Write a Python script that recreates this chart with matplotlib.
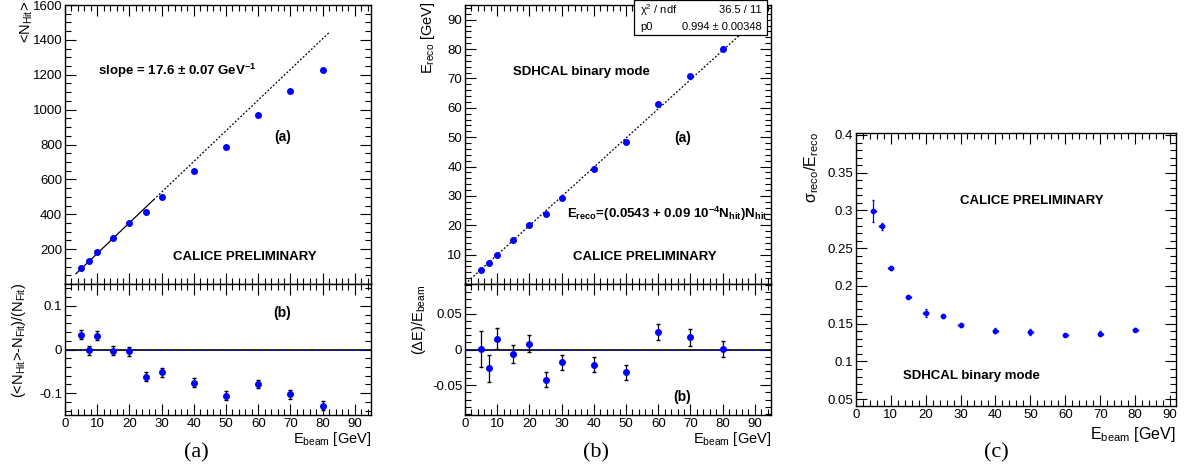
"""CALICE SDHCAL binary-mode linearity and resolution plots."""

import matplotlib

matplotlib.use("Agg")
import matplotlib.pyplot as plt
from matplotlib.patches import Rectangle
from matplotlib.ticker import FuncFormatter, MultipleLocator

plt.rcParams["font.family"] = ["Liberation Sans", "DejaVu Sans"]
plt.rcParams["mathtext.fontset"] = "custom"
plt.rcParams["mathtext.rm"] = "Liberation Sans"
plt.rcParams["mathtext.it"] = "Liberation Sans:italic"
plt.rcParams["mathtext.bf"] = "Liberation Sans:bold"
plt.rcParams["mathtext.default"] = "rm"
plt.rcParams["axes.unicode_minus"] = False

E_BEAM = [5, 7.5, 10, 15, 20, 25, 30, 40, 50, 60, 70, 80]
NHIT_MEAN = [90, 132, 182, 264, 350, 413, 500, 649, 787, 972, 1106, 1226]
NHIT_RESID = [0.034, -0.002, 0.032, -0.003, -0.004, -0.062, -0.052, -0.076, -0.106, -0.079, -0.103, -0.129]
NHIT_RESID_ERR = [0.010, 0.010, 0.010, 0.010, 0.010, 0.010, 0.010, 0.010, 0.010, 0.010, 0.011, 0.010]
E_RECO = [4.9, 7.15, 10.0, 14.9, 20.0, 24.0, 29.3, 39.0, 48.2, 61.3, 70.9, 79.9]
E_RESID = [0.001, -0.026, 0.015, -0.0065, 0.0083, -0.042, -0.018, -0.021, -0.032, 0.024, 0.017, 0.001]
E_RESID_ERR = [0.025, 0.019, 0.0146, 0.0128, 0.0113, 0.011, 0.011, 0.011, 0.0107, 0.011, 0.012, 0.0115]
RESOLUTION = [0.299, 0.279, 0.224, 0.186, 0.164, 0.160, 0.148, 0.141, 0.139, 0.135, 0.137, 0.142]
RESOLUTION_ERR = [0.0148, 0.005, 0.003, 0.0025, 0.0055, 0.003, 0.003, 0.003, 0.004, 0.0015, 0.003, 0.002]
E_BEAM_ERR = 0.7

SLOPE = 17.6
INTERCEPT = -1.0
FIT_SOLID = (3.4, 27.5)
FIT_DOTTED = (27.5, 82.0)
CALIB = 0.994

_W, _H = 1194, 472
_BLUE = "#0000ff"
_TICK_FS = 9.5
_TXT_FS = 9.5
_CAP_FS = 16


def _px_rect(x0, y0, x1, y1):
    return [x0 / _W, 1 - y1 / _H, (x1 - x0) / _W, (y1 - y0) / _H]


def _fmt(v, _pos):
    v = round(v, 6)
    return "0" if v == 0 else f"{v:g}"


def _fmt_no_zero(v, _pos):
    v = round(v, 6)
    return "" if v == 0 else f"{v:g}"


def _root_style(ax, xmin, ymin, show_xlabels=True, hide_zero=False):
    ax.xaxis.set_minor_locator(MultipleLocator(xmin))
    ax.yaxis.set_minor_locator(MultipleLocator(ymin))
    ax.tick_params(which="both", direction="in", top=True, right=True, labelsize=_TICK_FS, pad=2)
    ax.tick_params(which="major", length=8, width=0.8)
    ax.tick_params(which="minor", length=4, width=0.8)
    ax.tick_params(axis="x", labelbottom=show_xlabels)
    ax.yaxis.set_major_formatter(FuncFormatter(_fmt_no_zero if hide_zero else _fmt))
    for spine in ax.spines.values():
        spine.set_linewidth(1.0)


def _zero_line(ax):
    ax.axhline(0, color="black", linewidth=1.2, zorder=2)
    ax.axhline(0, color=_BLUE, linewidth=0.7, linestyle=(0, (1, 1.5)), zorder=3)


fig = plt.figure(figsize=(_W / 100, _H / 100), dpi=100)

# ---- (a) N_hit vs E_beam ----
a_top = fig.add_axes(_px_rect(65, 5, 371, 284))
a_bot = fig.add_axes(_px_rect(65, 284, 371, 415))

xs = [FIT_SOLID[0], FIT_SOLID[1]]
a_top.plot(xs, [SLOPE * x + INTERCEPT for x in xs], color="black", linewidth=0.9, zorder=2)
xd = [FIT_DOTTED[0], FIT_DOTTED[1]]
a_top.plot(xd, [SLOPE * x + INTERCEPT for x in xd], color="black", linewidth=0.9,
           linestyle=(0, (1.5, 1.5)), zorder=2)
a_top.plot(E_BEAM, NHIT_MEAN, "o", color=_BLUE, markersize=4, zorder=3)
a_top.set_xlim(0, 95)
a_top.set_ylim(0, 1600)
a_top.xaxis.set_major_locator(MultipleLocator(10))
a_top.yaxis.set_major_locator(MultipleLocator(200))
_root_style(a_top, 2, 50, show_xlabels=False, hide_zero=True)
a_top.text(10.2, 1222, "slope = 17.6 ± 0.07 GeV$^{\\mathbf{-1}}$", fontsize=_TXT_FS,
           fontweight="bold", va="center", ha="left")
a_top.text(64.9, 842, "(a)", fontsize=_TXT_FS + 0.5, fontweight="bold", va="center", ha="left")
a_top.text(33.4, 156, "CALICE PRELIMINARY", fontsize=_TXT_FS, fontweight="bold",
           va="center", ha="left")

_zero_line(a_bot)
a_bot.errorbar(E_BEAM, NHIT_RESID, yerr=NHIT_RESID_ERR, fmt="o", color=_BLUE, ecolor="black",
               elinewidth=0.9, capsize=1.5, markersize=4, zorder=4)
a_bot.set_xlim(0, 95)
a_bot.set_ylim(-0.15, 0.15)
a_bot.xaxis.set_major_locator(MultipleLocator(10))
a_bot.yaxis.set_major_locator(MultipleLocator(0.1))
_root_style(a_bot, 2, 0.02)
a_bot.text(64.6, 0.084, "(b)", fontsize=_TXT_FS + 0.5, fontweight="bold", va="center", ha="left")

fig.text(27 / _W, 1 - 1 / _H, "<N$_{\\mathrm{Hit}}$>", rotation=90, ha="center", va="top",
         fontsize=_TICK_FS + 1)
fig.text(19 / _W, 1 - 283 / _H, "(<N$_{\\mathrm{Hit}}$>-N$_{\\mathrm{Fit}}$)/(N$_{\\mathrm{Fit}}$)",
         rotation=90, ha="center", va="top", fontsize=_TICK_FS + 1)
fig.text(371 / _W, 1 - 430 / _H, "E$_{\\mathrm{beam}}$ [GeV]", ha="right", va="top",
         fontsize=_TICK_FS + 1)
fig.text(196 / _W, 1 - 453 / _H, "(a)", ha="center", va="center", fontsize=_CAP_FS,
         family="Liberation Serif")

# ---- (b) E_reco vs E_beam ----
b_top = fig.add_axes(_px_rect(465, 5, 771, 284))
b_bot = fig.add_axes(_px_rect(465, 284, 771, 415))

xl = [0.0, 95.0]
b_top.plot(xl, [CALIB * x for x in xl], color="black", linewidth=0.9,
           linestyle=(0, (1.5, 1.5)), zorder=2)
b_top.plot(E_BEAM, E_RECO, "o", color=_BLUE, markersize=4, zorder=3)
b_top.set_xlim(0, 95)
b_top.set_ylim(0, 95)
b_top.xaxis.set_major_locator(MultipleLocator(10))
b_top.yaxis.set_major_locator(MultipleLocator(10))
_root_style(b_top, 2, 2, show_xlabels=False, hide_zero=True)
b_top.text(14.8, 72.2, "SDHCAL binary mode", fontsize=_TXT_FS, fontweight="bold",
           va="center", ha="left")
b_top.text(64.9, 49.8, "(a)", fontsize=_TXT_FS + 0.5, fontweight="bold", va="center", ha="left")
b_top.text(31.6, 24.0,
           "E$_{\\mathbf{reco}}$=(0.0543 + 0.09 10$^{\\mathbf{-4}}$N$_{\\mathbf{hit}}$)N$_{\\mathbf{hit}}$",
           fontsize=_TXT_FS, fontweight="bold", va="center", ha="left")
b_top.text(33.4, 9.2, "CALICE PRELIMINARY", fontsize=_TXT_FS, fontweight="bold",
           va="center", ha="left")

_zero_line(b_bot)
b_bot.errorbar(E_BEAM, E_RESID, yerr=E_RESID_ERR, fmt="o", color=_BLUE, ecolor="black",
               elinewidth=0.9, capsize=1.5, markersize=4, zorder=4)
b_bot.set_xlim(0, 95)
b_bot.set_ylim(-0.0915, 0.0915)
b_bot.xaxis.set_major_locator(MultipleLocator(10))
b_bot.yaxis.set_major_locator(MultipleLocator(0.05))
_root_style(b_bot, 2, 0.01)
b_bot.text(64.6, -0.067, "(b)", fontsize=_TXT_FS + 0.5, fontweight="bold", va="center", ha="left")

# fit statistics box
fig.patches.append(Rectangle((634 / _W, 1 - 34.5 / _H), 133 / _W, 34 / _H,
                             transform=fig.transFigure, facecolor="white",
                             edgecolor="black", linewidth=0.9, zorder=10))
fig.text(640 / _W, 1 - 10 / _H, "χ$^{2}$ / ndf", fontsize=8, va="center", ha="left", zorder=11)
fig.text(762 / _W, 1 - 10 / _H, "36.5 / 11", fontsize=8, va="center", ha="right", zorder=11)
fig.text(640 / _W, 1 - 27 / _H, "p0", fontsize=8, va="center", ha="left", zorder=11)
fig.text(762 / _W, 1 - 27 / _H, "0.994 ± 0.00348", fontsize=8, va="center", ha="right", zorder=11)

fig.text(428 / _W, 1 - 1 / _H, "E$_{\\mathrm{reco}}$ [GeV]", rotation=90, ha="center", va="top",
         fontsize=_TICK_FS + 1)
fig.text(419 / _W, 1 - 285 / _H, "(ΔE)/E$_{\\mathrm{beam}}$", rotation=90, ha="center", va="top",
         fontsize=_TICK_FS + 1)
fig.text(771 / _W, 1 - 430 / _H, "E$_{\\mathrm{beam}}$ [GeV]", ha="right", va="top",
         fontsize=_TICK_FS + 1)
fig.text(596 / _W, 1 - 453 / _H, "(b)", ha="center", va="center", fontsize=_CAP_FS,
         family="Liberation Serif")

# ---- (c) resolution ----
c_ax = fig.add_axes(_px_rect(855.7, 132.7, 1175.7, 406))
c_ax.errorbar(E_BEAM, RESOLUTION, yerr=RESOLUTION_ERR, xerr=E_BEAM_ERR, fmt="o", color=_BLUE,
              ecolor=_BLUE, elinewidth=0.9, capsize=1, markersize=3, zorder=3)
c_ax.set_xlim(0, 91.6)
c_ax.set_ylim(0.041, 0.403)
c_ax.xaxis.set_major_locator(MultipleLocator(10))
c_ax.yaxis.set_major_locator(MultipleLocator(0.05))
_root_style(c_ax, 2, 0.01)
c_ax.text(29.9, 0.313, "CALICE PRELIMINARY", fontsize=_TXT_FS, fontweight="bold",
          va="center", ha="left")
c_ax.text(13.6, 0.0813, "SDHCAL binary mode", fontsize=_TXT_FS, fontweight="bold",
          va="center", ha="left")

fig.text(812 / _W, 1 - 132 / _H, "σ$_{\\mathrm{reco}}$/E$_{\\mathrm{reco}}$", rotation=90,
         ha="center", va="top", fontsize=_TICK_FS + 2)
fig.text(1176 / _W, 1 - 425 / _H, "E$_{\\mathrm{beam}}$ [GeV]", ha="right", va="top",
         fontsize=_TICK_FS + 2)
fig.text(996 / _W, 1 - 453 / _H, "(c)", ha="center", va="center", fontsize=_CAP_FS,
         family="Liberation Serif")

fig.savefig("out.png", dpi=100, facecolor="white")
